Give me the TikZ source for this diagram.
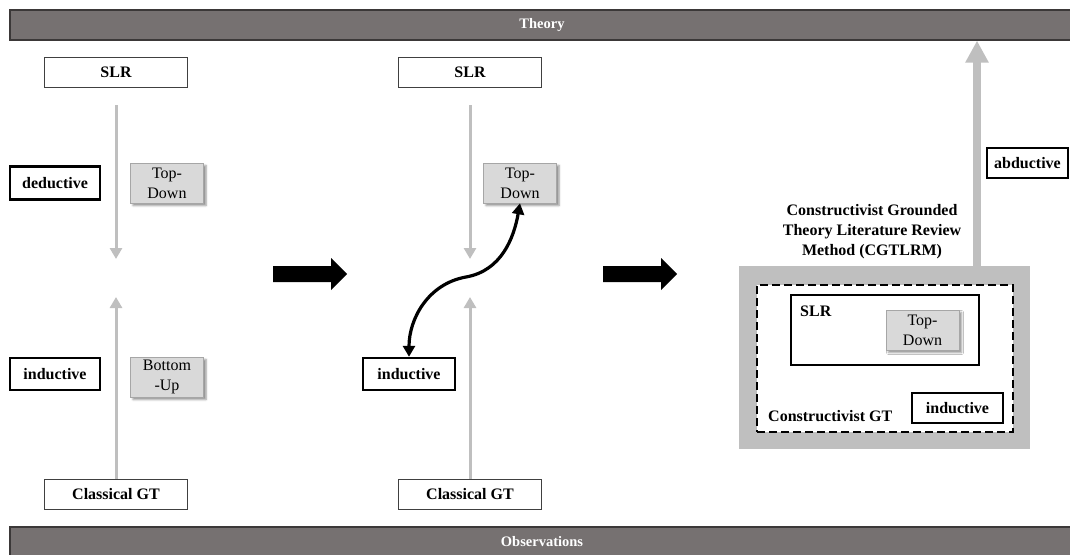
\documentclass[tikz,border=0pt]{standalone}
\usepackage{fontspec}
\setmainfont{Liberation Serif}
\usetikzlibrary{arrows.meta,shadows.blur}

\definecolor{barfill}{HTML}{767171}
\definecolor{barline}{HTML}{3B3838}
\definecolor{flowgray}{HTML}{BFBFBF}
\definecolor{cardfill}{HTML}{D9D9D9}
\definecolor{cardline}{HTML}{A6A6A6}

\tikzset{
  bar/.style={fill=barfill, draw=barline, line width=1.2pt, text=white,
    inner sep=0, font=\bfseries\fontsize{14.5}{16}\selectfont},
  plainbox/.style={draw=black!75, line width=0.8pt, minimum width=143pt,
    minimum height=30pt, inner sep=0, font=\bfseries\fontsize{16}{18}\selectfont},
  boldbox/.style={draw=black, line width=2.4pt, inner sep=0,
    font=\bfseries\fontsize{16}{18}\selectfont},
  card/.style={fill=cardfill, draw=cardline, line width=0.6pt,
    minimum width=73pt, minimum height=40pt, inner sep=0, align=center,
    font=\fontsize{16}{20}\selectfont,
    blur shadow={shadow xshift=2.5pt, shadow yshift=-2.5pt,
      shadow blur radius=2pt, shadow opacity=45}},
  label/.style={inner sep=0, font=\bfseries\fontsize{16}{20}\selectfont},
  flow/.style={draw=flowgray, line width=3pt,
    -{Triangle[length=11pt,width=12pt]}},
  bigflow/.style={draw=flowgray, line width=8pt,
    -{Triangle[length=22pt,width=22pt]}},
  link/.style={draw=black, line width=3.2pt,
    {Triangle[length=11pt,width=12pt]}-{Triangle[length=11pt,width=12pt]}},
  stagearrow/.pic={
    \fill[black] (0,-8) -- (58,-8) -- (58,-16) -- (74,0) -- (58,16)
      -- (58,8) -- (0,8) -- cycle;
  }
}

\begin{document}
\begin{tikzpicture}[x=1pt,y=-1pt]
\useasboundingbox (0,0) rectangle (1070,554);

% top and bottom bands
\node[bar, minimum width=1064pt, minimum height=30pt] (theory) at (542,25) {Theory};
\node[bar, minimum width=1064pt, minimum height=30pt] (obs) at (542,542) {Observations};

% ---- stage 1: classical pairing ----
\node[plainbox] (lslr) at (116,72) {SLR};
\node[plainbox] (lgt)  at (116,494) {Classical GT};
\node[boldbox, minimum width=90pt, minimum height=33pt] (lded) at (55,183) {deductive};
\node[boldbox, minimum width=90pt, minimum height=32pt] (lind) at (55,374) {inductive};
\node[card] (ltd) at (167,183) {Top-\\Down};
\node[card] (lbu) at (167,377) {Bottom\\-Up};
\coordinate (ldstart) at (116,105);
\coordinate (ldend)   at (116,259);
\coordinate (luend)   at (116,297);
\draw[flow] (ldstart) -- (ldend);
\draw[flow] (lgt.north) -- (luend);

\pic at (273,274) {stagearrow};

% ---- stage 2: combined ----
\node[plainbox] (mslr) at (470,72) {SLR};
\node[plainbox] (mgt)  at (470,494) {Classical GT};
\node[card] (mtd) at (520,183) {Top-\\Down};
\node[boldbox, minimum width=92pt, minimum height=32pt] (mind) at (409,374) {inductive};
\coordinate (mdstart) at (470,105);
\coordinate (mdend)   at (470,259);
\coordinate (muend)   at (470,297);
\draw[flow] (mdstart) -- (mdend);
\draw[flow] (mgt.north) -- (muend);
\coordinate (mbend) at (466,277);
\draw[link] (mind.north) to[out=90,in=190] (mbend) to[out=10,in=-100] (mtd.south);

\pic at (603,274) {stagearrow};

% ---- stage 3: CGTLRM ----
\node[fill=flowgray, minimum width=291pt, minimum height=183pt, inner sep=0]
  (cg) at (884.5,357.5) {};
\node[fill=white, draw=black, line width=2pt, dash pattern=on 8pt off 4pt,
  minimum width=256pt, minimum height=147pt, inner sep=0] (cgt) at (885,358.5) {};
\node[draw=black, line width=2pt, minimum width=188pt, minimum height=70pt,
  inner sep=0] (rslr) at (885,330) {};
\node[label, anchor=base west] (rslrlabel) at (800,316) {SLR};
\node[card] (rtd) at (922.5,330) {Top-\\Down};
\node[label, anchor=base west] (cgtlabel) at (768,421) {Constructivist GT};
\node[boldbox, minimum width=91pt, minimum height=30pt] (rind) at (957.5,408) {inductive};
\node[label, align=center] (cgtitle) at (872,232) {Constructivist Grounded\\Theory Literature Review\\Method (CGTLRM)};

\coordinate (abfoot) at (977,266);
\draw[bigflow] (abfoot) -- (abfoot |- theory.south);
\node[boldbox, minimum width=81pt, minimum height=30pt] (abd) at (1027.5,163) {abductive};

\end{tikzpicture}
\end{document}
